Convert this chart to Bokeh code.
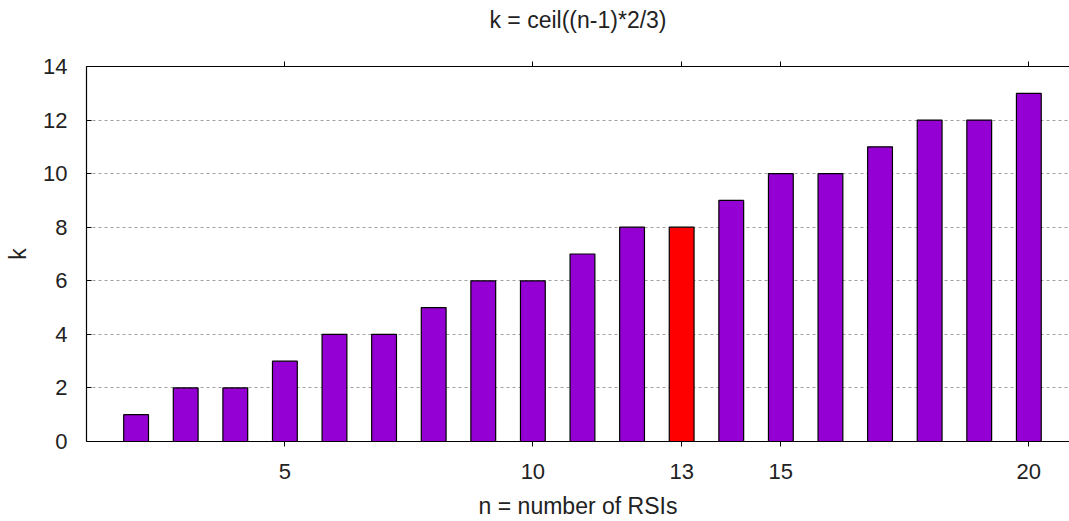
from bokeh.plotting import figure
from bokeh.models import LinearAxis, FixedTicker, ColumnDataSource, Range1d
from bokeh.embed import file_html
from bokeh.resources import INLINE

n_values = [2, 3, 4, 5, 6, 7, 8, 9, 10, 11, 12, 13, 14, 15, 16, 17, 18, 19, 20]
k_values = [1, 2, 2, 3, 4, 4, 5, 6, 6, 7, 8, 8, 9, 10, 10, 11, 12, 12, 13]
highlight_n = 13
x_ticks = [5, 10, 13, 15, 20]
y_ticks = [0, 2, 4, 6, 8, 10, 12, 14]
title_text = "k = ceil((n-1)*2/3)"
x_label_text = "n = number of RSIs"
y_label_text = "k"

PURPLE = "#9400D3"
RED = "#FF0000"
FONT = "Liberation Sans"
TXT = "#222222"
colors = [RED if n == highlight_n else PURPLE for n in n_values]

src = ColumnDataSource(dict(n=n_values, k=k_values, c=colors))

p = figure(width=1069, height=521, output_backend="svg", toolbar_location=None,
           x_range=Range1d(1, 20.82), y_range=Range1d(0, 14),
           min_border_left=86, min_border_right=0, min_border_top=66, min_border_bottom=79,
           x_axis_location=None, y_axis_location=None)
p.outline_line_color = None
p.background_fill_color = "white"
p.border_fill_color = "white"

p.vbar(x="n", top="k", width=0.5, bottom=0, source=src, fill_color="c",
       line_color="black", line_width=1.2)

bottom = LinearAxis(ticker=FixedTicker(ticks=x_ticks), axis_label=x_label_text)
bottom.major_tick_in = 0
bottom.major_tick_out = 5
bottom.minor_tick_line_color = None
bottom.major_label_text_font = FONT
bottom.major_label_text_font_size = "22px"
bottom.major_label_text_color = TXT
bottom.major_label_standoff = 17
bottom.major_label_text_line_height = 1.0
bottom.axis_label_text_font = FONT
bottom.axis_label_text_font_size = "23px"
bottom.axis_label_text_font_style = "normal"
bottom.axis_label_text_color = TXT
bottom.axis_label_text_line_height = 1.0
bottom.axis_label_standoff = 11
bottom.axis_line_color = "black"
bottom.axis_line_width = 1.2
p.add_layout(bottom, "below")

top = LinearAxis(ticker=FixedTicker(ticks=x_ticks), axis_label=title_text)
top.major_tick_in = 0
top.major_tick_out = 5
top.minor_tick_line_color = None
top.major_label_text_font_size = "1px"
top.major_label_text_alpha = 0
top.major_label_standoff = 0
top.axis_label_text_font = FONT
top.axis_label_text_font_size = "23px"
top.axis_label_text_font_style = "normal"
top.axis_label_text_color = TXT
top.axis_label_standoff = 29
top.axis_line_color = "black"
top.axis_line_width = 1.2
p.add_layout(top, "above")

left = LinearAxis(ticker=FixedTicker(ticks=y_ticks), axis_label=y_label_text)
left.major_tick_in = 5
left.major_tick_out = 0
left.minor_tick_line_color = None
left.major_label_text_font = FONT
left.major_label_text_font_size = "22px"
left.major_label_text_color = TXT
left.major_label_standoff = 19
left.axis_label_text_font = FONT
left.axis_label_text_font_size = "23px"
left.axis_label_text_font_style = "normal"
left.axis_label_text_color = TXT
left.axis_label_standoff = 9
left.axis_line_color = "black"
left.axis_line_width = 1.2
p.add_layout(left, "left")

p.xgrid.visible = False
p.ygrid.ticker = FixedTicker(ticks=[2, 4, 6, 8, 10, 12])
p.ygrid.grid_line_color = "#a0a0a0"
p.ygrid.grid_line_dash = "3 3"
p.ygrid.grid_line_width = 1

open("out.html", "w").write(file_html(p, INLINE))
